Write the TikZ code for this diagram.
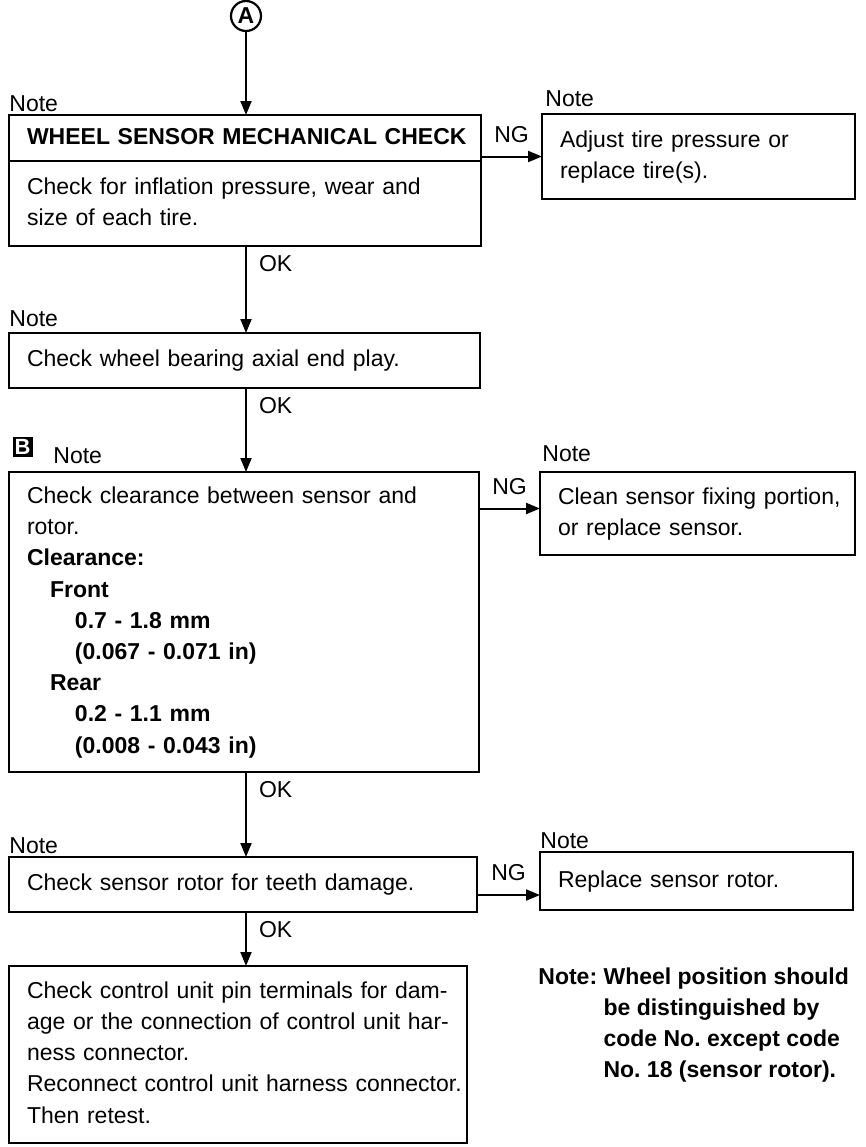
\documentclass[tikz,border=0pt]{standalone}
\usepackage{fontspec}
\setmainfont{Liberation Sans}
\usepackage{tikz}
\usetikzlibrary{positioning, arrows.meta, calc}

\frenchspacing
\newcommand{\rows}[1]{\begin{tabular}{@{}l@{}}#1\end{tabular}}

\tikzset{
  box/.style={draw, rectangle, line width=1.1pt, outer sep=0pt, anchor=north west, align=left, inner xsep=9pt, inner ysep=1pt, text width=#1},
  flow/.style={line width=1pt, -{Triangle[length=7pt, width=5.5pt]}},
  note/.style={anchor=base west, inner sep=0},
  ok/.style={pos=0, anchor=north west, inner sep=0, xshift=6pt, yshift=-4.3pt},
  ng/.style={midway, above=6.4pt, inner sep=0}
}

\begin{document}
\begin{tikzpicture}[x=0.5pt, y=-0.5pt, font=\fontsize{11.5}{15.6}\selectfont]
  \useasboundingbox (0,0) rectangle (866,1147);

  \node[draw, circle, line width=1.1pt, minimum size=15pt, inner sep=0, font=\fontsize{11.5}{12}\selectfont\bfseries] (A) at (246,16) {A};

  \node[box=218pt, minimum height=23pt] (b1h) at (9,115) {\rows{\textbf{WHEEL SENSOR MECHANICAL CHECK}}};
  \node[box=218pt, minimum height=42.5pt] (b1) at (b1h.south west) {\rows{Check for inflation pressure, wear and\\ size of each tire.}};
  \node[box=138.5pt, minimum height=42.5pt] (b2) at (542,114) {\rows{Adjust tire pressure or\\ replace tire(s).}};
  \node[box=217.5pt, minimum height=27.5pt] (b3) at (9,333) {\rows{Check wheel bearing axial end play.}};
  \node[box=217pt, minimum height=150pt] (b4) at (9,472) {\rows{Check clearance between sensor and\\ rotor.\\ \textbf{Clearance:}\\ \hspace*{11.5pt}\textbf{Front}\\ \hspace*{24pt}\textbf{0.7 - 1.8 mm}\\ \hspace*{24pt}\textbf{(0.067 - 0.071 in)}\\ \hspace*{11.5pt}\textbf{Rear}\\ \hspace*{24pt}\textbf{0.2 - 1.1 mm}\\ \hspace*{24pt}\textbf{(0.008 - 0.043 in)}}};
  \node[box=139.5pt, minimum height=41.5pt] (b5) at (540,472) {\rows{Clean sensor fixing portion,\\ or replace sensor.}};
  \node[box=216pt, minimum height=27.5pt] (b6) at (9,857) {\rows{Check sensor rotor for teeth damage.}};
  \node[box=138.5pt, minimum height=29pt] (b7) at (540,852) {\rows{Replace sensor rotor.}};
  \node[box=211pt, minimum height=88.5pt] (b8) at (9,966) {\rows{Check control unit pin terminals for dam-\\ age or the connection of control unit har-\\ ness connector.\\ Reconnect control unit harness connector.\\ Then retest.}};

  \node[note] (n1) at ([yshift=2pt]b1h.north west) {Note};
  \node[note] (n2) at ([xshift=1.5pt, yshift=4pt]b2.north west) {Note};
  \node[note] (n3) at ([yshift=3.5pt]b3.north west) {Note};
  \node[fill=black, text=white, minimum size=10pt, inner sep=0, font=\fontsize{11}{12}\selectfont\bfseries] (bmark) at ([xshift=6.75pt, yshift=12.75pt]b4.north west) {B};
  \node[note] (n4) at ([xshift=22pt, yshift=4.5pt]b4.north west) {Note};
  \node[note] (n5) at ([xshift=1pt, yshift=5.5pt]b5.north west) {Note};
  \node[note] (n6) at ([yshift=2pt]b6.north west) {Note};
  \node[note] (n7) at ([yshift=2pt]b7.north west) {Note};

  \node[anchor=north west, inner sep=0] (fn) at (538,962) {\bfseries\begin{tabular}{@{}l@{ }l@{}}Note: & Wheel position should\\ & be distinguished by\\ & code No. except code\\ & No. 18 (sensor rotor).\end{tabular}};

  \draw[flow] (A) -- (A |- b1h.north);
  \draw[flow] (A |- b1.south) -- (A |- b3.north) node[ok] {OK};
  \draw[flow] (A |- b3.south) -- (A |- b4.north) node[ok] {OK};
  \draw[flow] (A |- b4.south) -- (A |- b6.north) node[ok] {OK};
  \draw[flow] (A |- b6.south) -- (A |- b8.north) node[ok] {OK};

  \draw[flow] (b1h.east |- b2.west) -- (b2.west) node[ng] {NG};
  \draw[flow] ($(b4.east |- b5.west)+(0,-5)$) -- ($(b5.west)+(0,-5)$) node[ng] {NG};
  \draw[flow] ($(b6.east |- b7.west)+(0,14)$) -- ($(b7.west)+(0,14)$) node[ng] {NG};
\end{tikzpicture}
\end{document}
